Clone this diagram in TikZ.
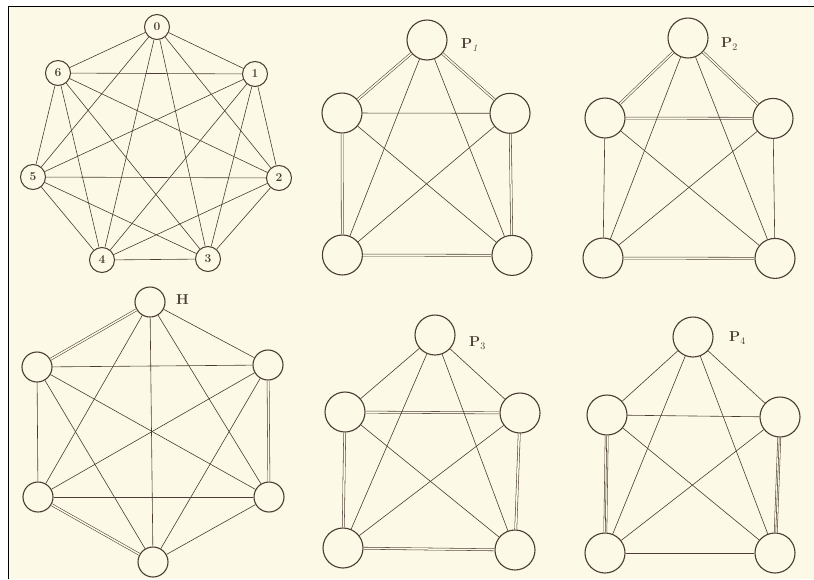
\documentclass[tikz,border=0pt]{standalone}
\definecolor{paper}{HTML}{FCFAE6}
\definecolor{ink}{HTML}{4A3C34}
\tikzset{
  x=1pt, y=-1pt,
  vs/.style={circle, draw=ink, line width=1pt, minimum size=25pt, inner sep=0pt, font=\large\bfseries, text=ink},
  vh/.style={circle, draw=ink, line width=1.1pt, minimum size=30pt, inner sep=0pt},
  vp/.style={circle, draw=ink, line width=1.1pt, minimum size=40pt, inner sep=0pt},
  sgl/.style={draw=ink, line width=0.6pt},
  dbl/.style={draw=ink, line width=0.55pt, double=paper, double distance=1.5pt},
  trpmid/.style={draw=ink, line width=0.55pt},
  trpout/.style={draw=ink, line width=0.55pt, double=paper, double distance=2.5pt},
  lbl/.style={font=\Large\bfseries, text=ink, inner sep=0pt}
}
\begin{document}
\begin{tikzpicture}
\useasboundingbox (0,0) rectangle (814,579);
\fill[white] (0,0) rectangle (814,579);
\fill[paper] (8.5,6.5) rectangle (814,579);
\draw[black, line width=1.6pt] (8.5,579) -- (8.5,6.5) -- (814,6.5);

% ---------- K7 ----------
\node[vs] (k0) at (157,27) {0};
\node[vs] (k1) at (255,74) {1};
\node[vs] (k2) at (279,178) {2};
\node[vs] (k3) at (208,259) {3};
\node[vs] (k4) at (102,260) {4};
\node[vs] (k5) at (33,177) {5};
\node[vs] (k6) at (58,73) {6};
\foreach \a/\b in {k0/k1,k0/k2,k0/k3,k0/k4,k0/k5,k0/k6,
                   k1/k2,k1/k3,k1/k4,k1/k5,k1/k6,
                   k2/k3,k2/k4,k2/k5,k2/k6,
                   k3/k4,k3/k5,k3/k6,
                   k4/k5,k4/k6,
                   k5/k6}
  \draw[sgl] (\a) -- (\b);

% ---------- P1 ----------
\node[vp] (a0) at (427,40) {};
\node[vp] (a1) at (342,113) {};
\node[vp] (a2) at (510,113.3) {};
\node[vp] (a3) at (342.4,255) {};
\node[vp] (a4) at (512,255.4) {};
\node[lbl, anchor=west] (la) at (461,45) {P$_{\mathit 1}$};
\draw[dbl] (a0) -- (a1);
\draw[dbl] (a0) -- (a2);
\draw[sgl] (a1) -- (a2);
\draw[dbl] (a1) -- (a3);
\draw[dbl] (a2) -- (a4);
\draw[dbl] (a3) -- (a4);
\draw[sgl] (a0) -- (a3);
\draw[sgl] (a0) -- (a4);
\draw[sgl] (a1) -- (a4);
\draw[sgl] (a2) -- (a3);

% ---------- P2 ----------
\node[vp] (b0) at (688,38) {};
\node[vp] (b1) at (605,118) {};
\node[vp] (b2) at (773,118.4) {};
\node[vp] (b3) at (603,258) {};
\node[vp] (b4) at (775,258.4) {};
\node[lbl, anchor=west] (lb) at (721,44) {P$_2$};
\draw[dbl] (b0) -- (b1);
\draw[dbl] (b0) -- (b2);
\draw[dbl] (b1) -- (b2);
\draw[sgl] (b1) -- (b3);
\draw[sgl] (b2) -- (b4);
\draw[dbl] (b3) -- (b4);
\draw[sgl] (b0) -- (b3);
\draw[sgl] (b0) -- (b4);
\draw[sgl] (b1) -- (b4);
\draw[sgl] (b2) -- (b3);

% ---------- H (K6) ----------
\node[vh] (h0) at (150,302) {};
\node[vh] (h1) at (268,365) {};
\node[vh] (h2) at (269,497) {};
\node[vh] (h3) at (153,562) {};
\node[vh] (h4) at (38,497) {};
\node[vh] (h5) at (37,367) {};
\node[lbl, anchor=west] (lh) at (176,300) {H};
\draw[dbl] (h0) -- (h5);
\draw[dbl] (h1) -- (h2);
\draw[dbl] (h3) -- (h4);
\foreach \a/\b in {h0/h1,h0/h2,h0/h3,h0/h4,
                   h1/h3,h1/h4,h1/h5,
                   h2/h3,h2/h4,h2/h5,
                   h3/h5,
                   h4/h5}
  \draw[sgl] (\a) -- (\b);

% ---------- P3 ----------
\node[vp] (c0) at (435,335) {};
\node[vp] (c1) at (345,412) {};
\node[vp] (c2) at (520,413) {};
\node[vp] (c3) at (343,548) {};
\node[vp] (c4) at (515,550) {};
\node[lbl, anchor=west] (lc) at (469,343) {P$_3$};
\draw[sgl] (c0) -- (c1);
\draw[sgl] (c0) -- (c2);
\draw[dbl] (c1) -- (c2);
\draw[dbl] (c1) -- (c3);
\draw[dbl] (c2) -- (c4);
\draw[dbl] (c3) -- (c4);
\draw[sgl] (c0) -- (c3);
\draw[sgl] (c0) -- (c4);
\draw[sgl] (c1) -- (c4);
\draw[sgl] (c2) -- (c3);

% ---------- P4 ----------
\node[vp] (d0) at (693,337) {};
\node[vp] (d1) at (607,415) {};
\node[vp] (d2) at (780,417) {};
\node[vp] (d3) at (605,553) {};
\node[vp] (d4) at (775,553) {};
\node[lbl, anchor=west] (ld) at (729,338) {P$_4$};
\draw[sgl] (d0) -- (d1);
\draw[sgl] (d0) -- (d2);
\draw[sgl] (d1) -- (d2);
\draw[trpout] (d1) -- (d3);
\draw[trpmid] (d1) -- (d3);
\draw[trpout] (d2) -- (d4);
\draw[trpmid] (d2) -- (d4);
\draw[sgl] (d3) -- (d4);
\draw[sgl] (d0) -- (d3);
\draw[sgl] (d0) -- (d4);
\draw[sgl] (d1) -- (d4);
\draw[sgl] (d2) -- (d3);
\end{tikzpicture}
\end{document}
